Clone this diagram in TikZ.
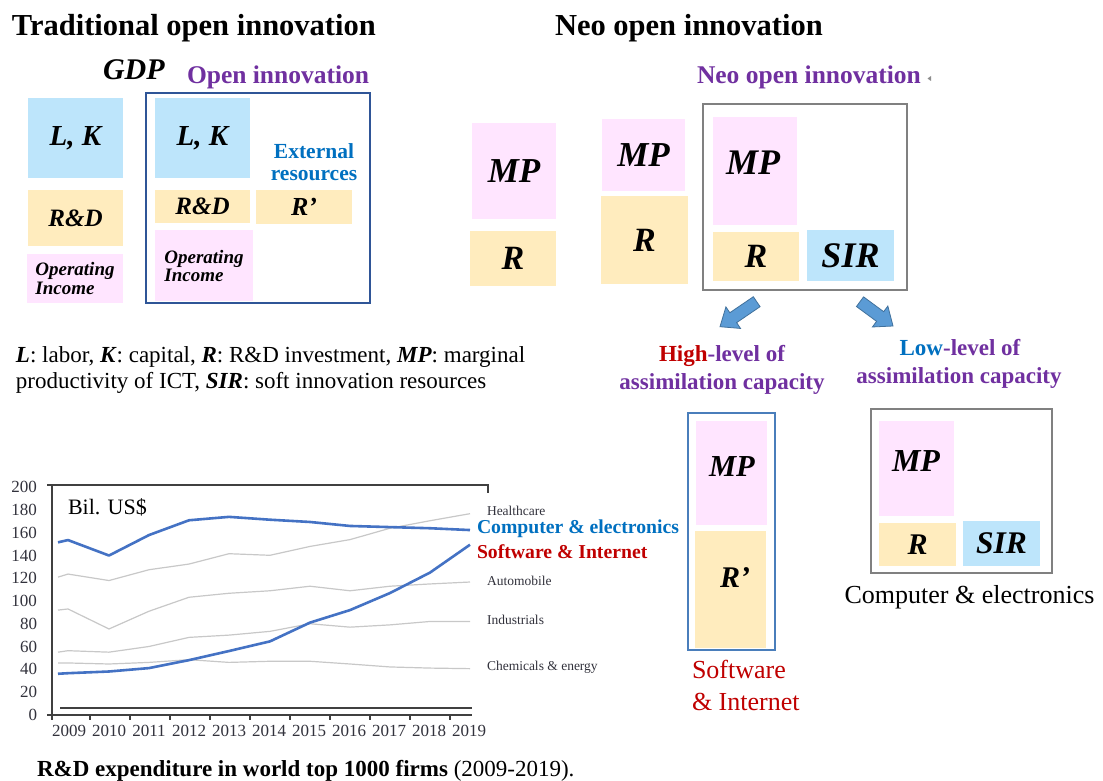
\documentclass[tikz,border=0pt]{standalone}
\usepackage{fontspec}
\setmainfont{Liberation Serif}
\usetikzlibrary{calc}
\newcommand{\fs}[1]{\fontsize{#1}{#1}\selectfont}
\newcommand{\yv}[1]{714.7-1.137*#1}
\definecolor{cblue}{RGB}{189,229,251}
\definecolor{cyel}{RGB}{255,236,190}
\definecolor{cpink}{RGB}{255,229,255}
\definecolor{cpurple}{RGB}{112,48,160}
\definecolor{ctxtblue}{RGB}{0,112,192}
\definecolor{cred}{RGB}{192,0,0}
\definecolor{cframe}{RGB}{47,85,151}
\definecolor{cgrayframe}{RGB}{128,128,128}
\definecolor{csoft}{RGB}{74,126,187}
\definecolor{cline}{RGB}{68,114,196}
\definecolor{cgrayline}{RGB}{200,200,200}
\definecolor{carrow}{RGB}{91,155,213}
\definecolor{carrowedge}{RGB}{65,113,156}
\definecolor{ctick}{RGB}{50,50,60}
\tikzset{
  blk/.style={inner sep=0pt, outer sep=0pt, anchor=center, font=\fs{35}\bfseries\itshape},
  frm/.style={inner sep=0pt, outer sep=0pt, anchor=center},
  txt/.style={inner sep=0pt, outer sep=0pt},
  ttl/.style={txt, font=\fs{30.5}\bfseries},
  purp/.style={txt, font=\fs{25.5}\bfseries, text=cpurple},
  assim/.style={txt, font=\fs{23}\bfseries, text=cpurple, anchor=base},
  tick/.style={txt, font=\fs{17}, text=ctick},
  slab/.style={txt, font=\fs{13.5}, text=ctick, anchor=base west},
  gline/.style={cgrayline, line width=1.2pt, line join=round},
  bline/.style={cline, line width=2.6pt, line join=round},
  axisline/.style={black!75, line width=1.4pt},
  barrow/.style={fill=carrow, draw=carrowedge, line width=0.8pt, line join=miter},
}
\begin{document}
\begin{tikzpicture}[x=1pt,y=-1pt]
\useasboundingbox (0,0) rectangle (1103,781);
\fill[white] (0,0) rectangle (1103,781);

% ---------- titles ----------
\node[ttl, anchor=base west] (t1) at (12,36) {Traditional open innovation};
\node[ttl, anchor=base west] (t2) at (555,36) {Neo open innovation};

% ---------- traditional ----------
\node[txt, anchor=base west, font=\fs{30}\bfseries\itshape] (gdp) at (103,80) {GDP};
\node[purp, anchor=base west] (oitl) at (187,84) {Open innovation};

\node[blk, fill=cblue, minimum width=95pt, minimum height=80pt, font=\fs{29}\bfseries\itshape] (lk1) at (75.5,138) {L, K};
\node[blk, fill=cyel, minimum width=95pt, minimum height=56pt, font=\fs{25}\bfseries\itshape] (rd1) at (75.5,218) {R\&D};
\node[blk, fill=cpink, minimum width=96pt, minimum height=49pt, font=\fs{19}\bfseries\itshape, align=left] (oi1) at (75,278.5) {Operating\\[-1pt]Income};

\node[frm, draw=cframe, line width=2pt, minimum width=224pt, minimum height=210pt] (ofr) at (258,198) {};
\node[blk, fill=cblue, minimum width=95pt, minimum height=80pt, font=\fs{29}\bfseries\itshape] (lk2) at (202.5,138) {L, K};
\node[blk, fill=cyel, minimum width=95pt, minimum height=33pt, font=\fs{25}\bfseries\itshape] (rd2) at (202.5,206.5) {R\&D};
\node[blk, fill=cyel, minimum width=96pt, minimum height=34pt, font=\fs{26}\bfseries\itshape] (rp2) at (304,207) {R’};
\node[blk, fill=cpink, minimum width=98pt, minimum height=71pt, font=\fs{19}\bfseries\itshape, align=left] (oi2) at (204,265.5) {Operating\\[-1pt]Income};
\node[txt, anchor=base, font=\fs{21.5}\bfseries, text=ctxtblue] (ext1) at (314,158) {External};
\node[txt, anchor=base, font=\fs{21.5}\bfseries, text=ctxtblue] (ext2) at (314,180) {resources};

% ---------- legend text ----------
\node[txt, anchor=base west, font=\fs{23}] (cap1) at (16,362) {\textbf{\textit{L}}: labor, \textbf{\textit{K}}: capital, \textbf{\textit{R}}: R\&D investment, \textbf{\textit{MP}}: marginal};
\node[txt, anchor=base west, font=\fs{23}] (cap2) at (16,388) {productivity of ICT, \textbf{\textit{SIR}}: soft innovation resources};

% ---------- neo ----------
\node[purp, anchor=base west] (noi) at (697,84) {Neo open innovation};
\fill[black!45] (927.5,78.5) -- (931,76) -- (931,81) -- cycle;

\node[blk, fill=cpink, minimum width=84pt, minimum height=96pt] (mp1) at (514,171) {MP};
\node[blk, fill=cyel, minimum width=86pt, minimum height=55pt, font=\fs{34}\bfseries\itshape] (r1) at (513,258.5) {R};
\node[blk, fill=cpink, minimum width=83pt, minimum height=72pt] (mp2) at (643.5,155) {MP};
\node[blk, fill=cyel, minimum width=87pt, minimum height=88pt, font=\fs{34}\bfseries\itshape] (r2) at (644.5,240) {R};

\node[frm, draw=cgrayframe, line width=1.5pt, minimum width=204pt, minimum height=186pt] (nfr) at (805,197) {};
\node[blk, fill=cpink, minimum width=84pt, minimum height=108pt] (mp3) at (755,171) {};
\node[blk, font=\fs{36}\bfseries\itshape] (mp3t) at (753,163) {MP};
\node[blk, fill=cyel, minimum width=86pt, minimum height=49pt, font=\fs{34}\bfseries\itshape] (r3) at (756,256.5) {R};
\node[blk, fill=cblue, minimum width=87pt, minimum height=51pt, font=\fs{36}\bfseries\itshape] (sir3) at (850.5,255.5) {SIR};

% block arrows
\coordinate (a1t) at (756.7,301.7); \coordinate (a1p) at (720,326.7);
\coordinate (a1h) at ($(a1p)!16pt!(a1t)$);
\draw[barrow] ($(a1t)!6pt!90:(a1p)$) -- ($(a1h)!6pt!90:(a1p)$) -- ($(a1h)!13pt!90:(a1p)$) -- (a1p)
  -- ($(a1h)!13pt!-90:(a1p)$) -- ($(a1h)!6pt!-90:(a1p)$) -- ($(a1t)!6pt!-90:(a1p)$) -- cycle;
\coordinate (a2t) at (860,301.7); \coordinate (a2p) at (893,326);
\coordinate (a2h) at ($(a2p)!16pt!(a2t)$);
\draw[barrow] ($(a2t)!6pt!90:(a2p)$) -- ($(a2h)!6pt!90:(a2p)$) -- ($(a2h)!13pt!90:(a2p)$) -- (a2p)
  -- ($(a2h)!13pt!-90:(a2p)$) -- ($(a2h)!6pt!-90:(a2p)$) -- ($(a2t)!6pt!-90:(a2p)$) -- cycle;

\node[assim] (hi1) at (722,361) {\textcolor{cred}{High}-level of};
\node[assim] (hi2) at (722,389) {assimilation capacity};
\node[assim] (lo1) at (960,355) {\textcolor{ctxtblue}{Low}-level of};
\node[assim] (lo2) at (959,383) {assimilation capacity};

% software box
\node[frm, draw=csoft, line width=1.3pt, minimum width=87pt, minimum height=237pt] (sfr) at (731.5,531.5) {};
\node[blk, fill=cpink, minimum width=71pt, minimum height=104pt] (mp4) at (731.5,473) {};
\node[blk, font=\fs{30.5}\bfseries\itshape] (mp4t) at (732,467) {MP};
\node[blk, fill=cyel, minimum width=71pt, minimum height=117pt] (rp4) at (730.5,589.5) {};
\node[blk, font=\fs{30}\bfseries\itshape] (rp4t) at (735,577.5) {R’};
\node[txt, anchor=base west, font=\fs{26}, text=cred] (sw1) at (692,678) {Software};
\node[txt, anchor=base west, font=\fs{26}, text=cred] (sw2) at (692,710) {\& Internet};

% computer box
\node[frm, draw=cgrayframe, line width=1.5pt, minimum width=181pt, minimum height=164pt] (cfr) at (961.5,491) {};
\node[blk, fill=cpink, minimum width=75pt, minimum height=95pt] (mp5) at (916.5,468.5) {};
\node[blk, font=\fs{32}\bfseries\itshape] (mp5t) at (916,461.5) {MP};
\node[blk, fill=cyel, minimum width=77pt, minimum height=43pt, font=\fs{30}\bfseries\itshape] (r5) at (917.5,544.5) {R};
\node[blk, fill=cblue, minimum width=77pt, minimum height=45pt, font=\fs{31.5}\bfseries\itshape] (sir5) at (1001.5,543.5) {SIR};
\node[txt, anchor=base, font=\fs{26}] (ce) at (969.5,603) {Computer \& electronics};

% ---------- chart ----------
\draw[axisline] (47,485) -- (488,485) -- (488,493);
\draw[axisline] (60,708) -- (472,708);
\draw[axisline] (52,485) -- (52,720);
\draw[axisline] (47,715) -- (472,715);
\foreach \x in {90,130,...,450} \draw[axisline] (\x,715) -- (\x,720);
\foreach \v in {0,20,...,200} \node[tick, anchor=east] (yl\v) at (37,{\yv{\v}}) {\v};
\foreach \i in {0,...,10} {\pgfmathtruncatemacro{\yr}{2009+\i}
  \node[tick, anchor=center] (xl\i) at ({69+40*\i},730.5) {\yr};}
\node[txt, anchor=base west, font=\fs{22}] (bil) at (68,514) {Bil. US\$};

% gray series
\draw[gline] (58,{\yv{121}}) -- (68,{\yv{123.7}}) -- (109,{\yv{118}}) -- (149,{\yv{127.5}}) -- (189,{\yv{132.5}}) -- (229,{\yv{141.6}}) -- (270,{\yv{140.2}}) -- (310,{\yv{148}}) -- (350,{\yv{154}}) -- (390,{\yv{164}}) -- (430,{\yv{170.6}}) -- (470,{\yv{176.8}});
\draw[gline] (58,{\yv{92}}) -- (68,{\yv{93}}) -- (109,{\yv{75.4}}) -- (149,{\yv{91}}) -- (189,{\yv{103.3}}) -- (229,{\yv{106.8}}) -- (270,{\yv{109}}) -- (310,{\yv{113}}) -- (350,{\yv{109}}) -- (390,{\yv{113}}) -- (430,{\yv{115}}) -- (470,{\yv{116.7}});
\draw[gline] (58,{\yv{55}}) -- (68,{\yv{56.3}}) -- (109,{\yv{55}}) -- (149,{\yv{60}}) -- (189,{\yv{68}}) -- (229,{\yv{70}}) -- (270,{\yv{73.3}}) -- (310,{\yv{80}}) -- (350,{\yv{77}}) -- (390,{\yv{79}}) -- (430,{\yv{82}}) -- (470,{\yv{82}});
\draw[gline] (58,{\yv{45.5}}) -- (68,{\yv{45.5}}) -- (109,{\yv{44.6}}) -- (149,{\yv{46}}) -- (189,{\yv{48.4}}) -- (229,{\yv{46}}) -- (270,{\yv{47}}) -- (310,{\yv{47}}) -- (350,{\yv{44.6}}) -- (390,{\yv{42}}) -- (430,{\yv{41}}) -- (470,{\yv{40.5}});
% blue series
\draw[bline] (58,{\yv{151.6}}) -- (68,{\yv{153.6}}) -- (109,{\yv{140}}) -- (149,{\yv{158}}) -- (189,{\yv{171}}) -- (229,{\yv{174}}) -- (270,{\yv{171.5}}) -- (310,{\yv{169.5}}) -- (350,{\yv{166}}) -- (390,{\yv{165}}) -- (430,{\yv{164}}) -- (470,{\yv{162.4}});
\draw[bline] (58,{\yv{36}}) -- (68,{\yv{36.5}}) -- (109,{\yv{38}}) -- (149,{\yv{41}}) -- (189,{\yv{48}}) -- (229,{\yv{56}}) -- (270,{\yv{64.5}}) -- (310,{\yv{81}}) -- (350,{\yv{92}}) -- (390,{\yv{107}}) -- (430,{\yv{125}}) -- (470,{\yv{149.5}});

\node[slab] (hc) at (487,515) {Healthcare};
\node[txt, anchor=base west, font=\fs{19.7}\bfseries, text=ctxtblue] (cel) at (477,533) {Computer \& electronics};
\node[txt, anchor=base west, font=\fs{19.7}\bfseries, text=cred] (sil) at (477,558) {Software \& Internet};
\node[slab] (au) at (487,585.7) {Automobile};
\node[slab] (ind) at (487,624) {Industrials};
\node[slab] (che) at (487,670) {Chemicals \& energy};

\node[txt, anchor=base west, font=\fs{23}] (chcap) at (37,776) {\textbf{R\&D expenditure in world top 1000 firms} (2009-2019).};
\end{tikzpicture}
\end{document}
